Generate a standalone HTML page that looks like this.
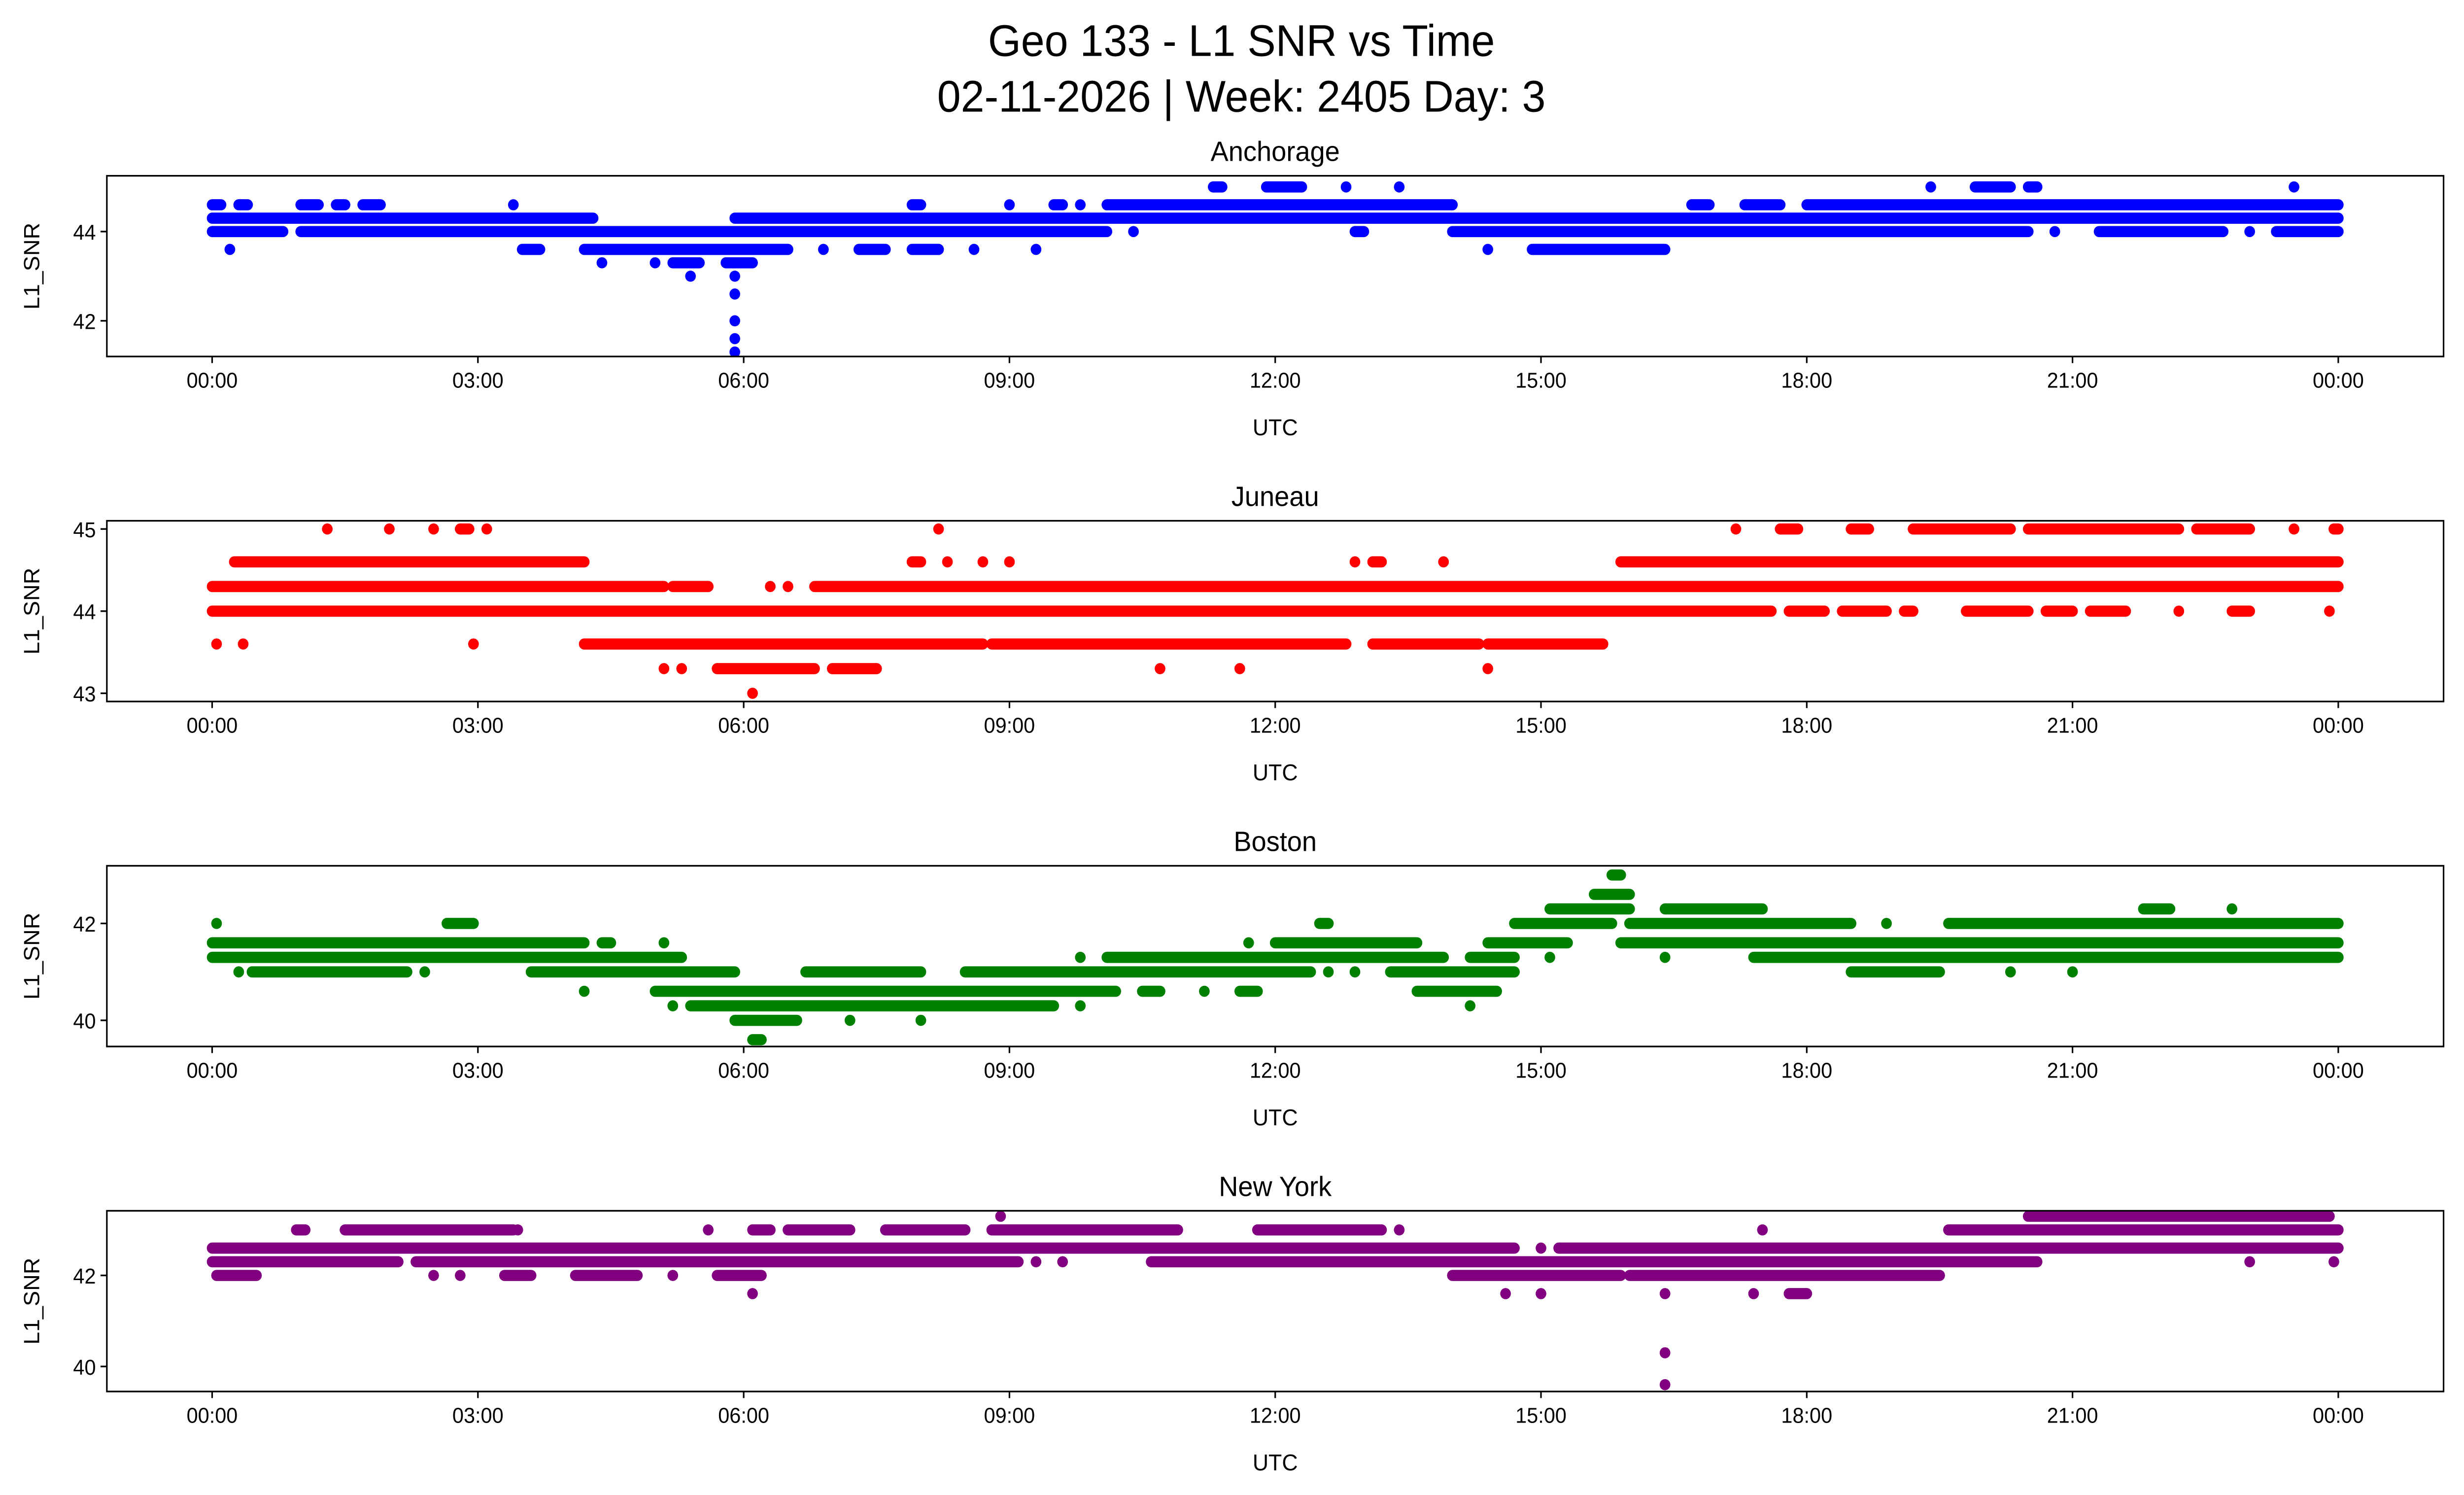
<!DOCTYPE html>
<html><head><meta charset="utf-8"><style>
html,body{margin:0;padding:0;background:#fff;overflow:hidden;width:100%;height:100%}
svg{display:block;width:100vw;height:100vh}
text{font-family:"Liberation Sans","DejaVu Sans",sans-serif;fill:#000}
</style></head><body>
<svg id="chart" xmlns="http://www.w3.org/2000/svg" viewBox="0 0 1568 910" preserveAspectRatio="none">
<rect width="1568" height="910" fill="#fff"/>
<text x="790" y="34" font-size="27" text-anchor="middle">Geo 133 - L1 SNR vs Time</text>
<text x="790" y="68" font-size="27" text-anchor="middle">02-11-2026 | Week: 2405 Day: 3</text>
<g id="panels"></g>
</svg>
<script>
// Data: each band = [startHour, endHour, snrValue]
const xTickLabels = ["00:00","03:00","06:00","09:00","12:00","15:00","18:00","21:00","00:00"];
const stationNames = ["Anchorage","Juneau","Boston","New York"];
const stationColors = ["#0000ff","#ff0000","#008000","#800080"];
const yTicksAnchorage = [42,44];
const yTicksJuneau = [43,44,45];
const yTicksBoston = [40,42];
const yTicksNewYork = [40,42];
const yRangeAnchorage = [41.2,45.25];
const yRangeJuneau = [42.9,45.1];
const yRangeBoston = [39.46,43.19];
const yRangeNewYork = [39.45,43.42];
const bandsAnchorage = [
 [0,0.1,44.6],[0.3,0.4,44.6],[1.0,1.2,44.6],[1.4,1.5,44.6],[1.7,1.9,44.6],[3.4,3.4,44.6],[7.9,8.0,44.6],[9.0,9.0,44.6],[9.5,9.6,44.6],[9.8,9.8,44.6],[10.1,14.0,44.6],[16.7,16.9,44.6],[17.3,17.7,44.6],[18.0,24,44.6],
 [0,4.3,44.3],[5.9,24,44.3],
 [0,0.8,44.0],[1.0,10.1,44.0],[10.4,10.4,44.0],[12.9,13.0,44.0],[14.0,20.5,44.0],[20.8,20.8,44.0],[21.3,22.7,44.0],[23.0,23.0,44.0],[23.3,24,44.0],
 [11.3,11.4,45],[11.9,12.3,45],[12.8,12.8,45],[13.4,13.4,45],[19.4,19.4,45],[19.9,20.3,45],[20.5,20.6,45],[23.5,23.5,45],
 [0.2,0.2,43.6],[3.5,3.7,43.6],[4.2,6.5,43.6],[6.9,6.9,43.6],[7.3,7.6,43.6],[7.9,8.2,43.6],[8.6,8.6,43.6],[9.3,9.3,43.6],[14.4,14.4,43.6],[14.9,16.4,43.6],
 [4.4,4.4,43.3],[5.0,5.0,43.3],[5.2,5.5,43.3],[5.8,6.1,43.3],
 [5.4,5.4,43],[5.9,5.9,43],[5.9,5.9,42.6],[5.9,5.9,42],[5.9,5.9,41.6],[5.9,5.9,41.3]
];
const bandsJuneau = [
 [1.3,1.3,45],[2.0,2.0,45],[2.5,2.5,45],[2.8,2.9,45],[3.1,3.1,45],[8.2,8.2,45],[17.2,17.2,45],[17.7,17.9,45],[18.5,18.7,45],[19.2,20.3,45],[20.5,22.2,45],[22.4,23.0,45],[23.5,23.5,45],[23.95,24,45],
 [0.25,4.2,44.6],[7.9,8.0,44.6],[8.3,8.3,44.6],[8.7,8.7,44.6],[9.0,9.0,44.6],[12.9,12.9,44.6],[13.1,13.2,44.6],[13.9,13.9,44.6],[15.9,24,44.6],
 [0,5.1,44.3],[5.2,5.6,44.3],[6.3,6.3,44.3],[6.5,6.5,44.3],[6.8,24,44.3],
 [0,17.6,44],[17.8,18.2,44],[18.4,18.9,44],[19.1,19.2,44],[19.8,20.5,44],[20.7,21.0,44],[21.2,21.6,44],[22.2,22.2,44],[22.8,23.0,44],[23.9,23.9,44],
 [0.05,0.05,43.6],[0.35,0.35,43.6],[2.95,2.95,43.6],[4.2,8.7,43.6],[8.8,12.8,43.6],[13.1,14.3,43.6],[14.4,15.7,43.6],
 [5.1,5.1,43.3],[5.3,5.3,43.3],[5.7,6.8,43.3],[7.0,7.5,43.3],[10.7,10.7,43.3],[11.6,11.6,43.3],[14.4,14.4,43.3],
 [6.1,6.1,43]
];
const bandsBoston = [
 [15.8,15.9,43],[15.6,16.0,42.6],[15.1,16.0,42.3],[16.4,17.5,42.3],[21.8,22.1,42.3],[22.8,22.8,42.3],
 [0.05,0.05,42],[2.65,2.95,42],[12.5,12.6,42],[14.7,15.8,42],[16.0,18.5,42],[18.9,18.9,42],[19.6,24,42],
 [0,4.2,41.6],[4.4,4.5,41.6],[5.1,5.1,41.6],[11.7,11.7,41.6],[12.0,13.6,41.6],[14.4,15.3,41.6],[15.9,24,41.6],
 [0,5.3,41.3],[9.8,9.8,41.3],[10.1,13.9,41.3],[14.2,14.7,41.3],[15.1,15.1,41.3],[16.4,16.4,41.3],[17.4,24,41.3],
 [0.3,0.3,41],[0.45,2.2,41],[2.4,2.4,41],[3.6,5.9,41],[6.7,8.0,41],[8.5,12.4,41],[12.6,12.6,41],[12.9,12.9,41],[13.3,14.7,41],[18.5,19.5,41],[20.3,20.3,41],[21.0,21.0,41],
 [4.2,4.2,40.6],[5.0,10.2,40.6],[10.5,10.7,40.6],[11.2,11.2,40.6],[11.6,11.8,40.6],[13.6,14.5,40.6],
 [5.2,5.2,40.3],[5.4,9.5,40.3],[9.8,9.8,40.3],[14.2,14.2,40.3],
 [5.9,6.6,40],[7.2,7.2,40],[8.0,8.0,40],[6.1,6.2,39.6]
];
const bandsNewYork = [
 [8.9,8.9,43.3],[20.5,23.9,43.3],
 [0.95,1.05,43],[1.5,3.4,43],[3.45,3.45,43],[5.6,5.6,43],[6.1,6.3,43],[6.5,7.2,43],[7.6,8.5,43],[8.8,10.9,43],[11.8,13.2,43],[13.4,13.4,43],[17.5,17.5,43],[19.6,24,43],
 [0,14.7,42.6],[15.0,15.0,42.6],[15.2,24,42.6],
 [0,2.1,42.3],[2.3,9.1,42.3],[9.3,9.3,42.3],[9.6,9.6,42.3],[10.6,20.6,42.3],[23.0,23.0,42.3],[23.95,23.95,42.3],
 [0.05,0.5,42],[2.5,2.5,42],[2.8,2.8,42],[3.3,3.6,42],[4.1,4.8,42],[5.2,5.2,42],[5.7,6.2,42],[14.0,15.9,42],[16.0,19.5,42],
 [6.1,6.1,41.6],[14.6,14.6,41.6],[15.0,15.0,41.6],[16.4,16.4,41.6],[17.4,17.4,41.6],[17.8,18.0,41.6],
 [16.4,16.4,40.3],[16.4,16.4,39.6]
];
const allBands = [bandsAnchorage,bandsJuneau,bandsBoston,bandsNewYork];
const allYTicks = [yTicksAnchorage,yTicksJuneau,yTicksBoston,yTicksNewYork];
const allYRanges = [yRangeAnchorage,yRangeJuneau,yRangeBoston,yRangeNewYork];

const NS = "http://www.w3.org/2000/svg";
const root = document.getElementById("panels");
const L = 68, R = 1555, X0 = 135, X24 = 1488;
const tops = [107,317,527,737], H = 110;
function xScale(h){ return X0 + (X24 - X0) * h / 24; }
function mk(tag, attrs, parent){ const e = document.createElementNS(NS, tag); for (const k in attrs) e.setAttribute(k, attrs[k]); parent.appendChild(e); return e; }

for (let p = 0; p < 4; p++) {
  const top = tops[p], bot = top + H, rng = allYRanges[p];
  const yScale = v => bot - (v - rng[0]) / (rng[1] - rng[0]) * H;
  const g = mk("g", {}, root);
  
  
  const t = mk("text", {x: (L + R) / 2, y: top - 9, "font-size": 17, "text-anchor": "middle"}, g);
  t.textContent = stationNames[p];
  
  
  const clip = mk("clipPath", {id: "c" + p}, g);
  mk("rect", {x: L, y: top, width: R - L, height: H}, clip);
  const marks = mk("g", {"clip-path": "url(#c" + p + ")"}, g);
  
  
  allBands[p].forEach(b => {
    const ln = mk("line", {x1: xScale(b[0]), x2: xScale(b[1]), y1: yScale(b[2]), y2: yScale(b[2]), stroke: stationColors[p], "stroke-width": 6.8, "stroke-linecap": "round"}, marks);
    
    
  });
  const frame = mk("rect", {x: L, y: top, width: R - L, height: H, fill: "none", stroke: "#000", "stroke-width": 1}, g);
  
  
  xTickLabels.forEach((lab, i) => {
    const x = xScale(i * 3);
    mk("line", {x1: x, x2: x, y1: bot, y2: bot + 4, stroke: "#000", "stroke-width": 1}, g);
    const tx = mk("text", {x: x, y: bot + 19, "font-size": 13, "text-anchor": "middle"}, g);
    tx.textContent = lab;
    
    
  });
  allYTicks[p].forEach(v => {
    const y = yScale(v);
    mk("line", {x1: L - 4, x2: L, y1: y, y2: y, stroke: "#000", "stroke-width": 1}, g);
    const ty = mk("text", {x: L - 7, y: y + 5, "font-size": 13, "text-anchor": "end"}, g);
    ty.textContent = v;
    
    
  });
  const xl = mk("text", {x: (L + R) / 2, y: bot + 48, "font-size": 14, "text-anchor": "middle"}, g);
  xl.textContent = "UTC";
  
  
  const yl = mk("text", {x: 0, y: 0, "font-size": 14, "text-anchor": "middle", transform: "translate(25," + (top + H / 2) + ") rotate(-90)"}, g);
  yl.textContent = "L1_SNR";
  
  
}
</script>
</body></html>
